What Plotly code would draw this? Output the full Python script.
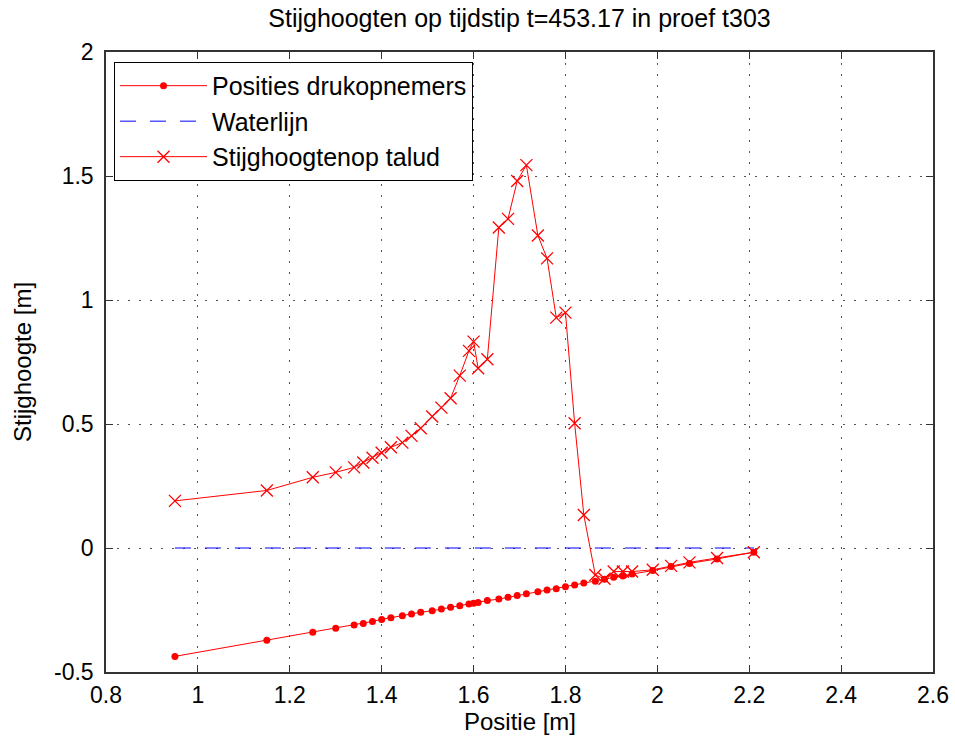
import plotly.graph_objects as go

# Sensor positions along the slope [m]
pos_x = [0.95, 1.15, 1.25, 1.30, 1.34, 1.36, 1.38, 1.40, 1.42, 1.445,
         1.465, 1.485, 1.51, 1.53, 1.55, 1.57, 1.59, 1.60, 1.61, 1.63,
         1.655, 1.675, 1.695, 1.715, 1.74, 1.76, 1.78, 1.80, 1.82, 1.84,
         1.865, 1.885, 1.905, 1.925, 1.945, 1.99, 2.03, 2.07, 2.13, 2.21]

# Elevation of pressure sensors [m]
pos_z = [-0.437, -0.372, -0.340, -0.324, -0.310, -0.304, -0.296, -0.288, -0.281, -0.273,
         -0.266, -0.259, -0.253, -0.246, -0.239, -0.233, -0.226, -0.223, -0.220, -0.212,
         -0.206, -0.199, -0.192, -0.184, -0.176, -0.169, -0.164, -0.156, -0.149, -0.141,
         -0.134, -0.126, -0.118, -0.113, -0.105, -0.091, -0.075, -0.062, -0.044, -0.017]

# Piezometric head on the slope [m]
head = [0.190, 0.232, 0.285, 0.305, 0.325, 0.345, 0.364, 0.384, 0.406, 0.425,
        0.452, 0.483, 0.530, 0.566, 0.604, 0.695, 0.795, 0.832, 0.725, 0.761,
        1.292, 1.327, 1.480, 1.544, 1.260, 1.168, 0.929, 0.949, 0.503, 0.133,
        -0.109, -0.124, -0.095, -0.095, -0.095, -0.088, -0.072, -0.058, -0.040, -0.017]

water_level = 0.0

x_ticks = [0.8, 1.0, 1.2, 1.4, 1.6, 1.8, 2.0, 2.2, 2.4, 2.6]
x_tick_text = ["0.8", "1", "1.2", "1.4", "1.6", "1.8", "2", "2.2", "2.4", "2.6"]
y_ticks = [-0.5, 0, 0.5, 1, 1.5, 2]
y_tick_text = ["-0.5", "0", "0.5", "1", "1.5", "2"]

FONT = "Liberation Sans, Arial, sans-serif"

fig = go.Figure()
fig.add_trace(go.Scatter(
    x=pos_x, y=pos_z, mode="lines+markers", name="Posities drukopnemers",
    line=dict(color="#ff0000", width=1),
    marker=dict(symbol="circle", size=7, color="#ff0000"),
))
fig.add_trace(go.Scatter(
    x=[pos_x[0], pos_x[-1]], y=[water_level, water_level], mode="lines",
    name="Waterlijn",
    line=dict(color="#0000ff", width=1, dash="16px,14px"),
))
fig.add_trace(go.Scatter(
    x=pos_x, y=head, mode="lines+markers", name="Stijghoogtenop talud",
    line=dict(color="#ff0000", width=1),
    marker=dict(symbol="x-thin", size=12, color="#ff0000",
                line=dict(color="#ff0000", width=1.3)),
))

axis_common = dict(
    showline=True, linecolor="#333333", linewidth=1.5, mirror="ticks",
    ticks="inside", ticklen=7, tickcolor="#333333",
    showgrid=True, gridcolor="#555555", gridwidth=1.2, griddash="2px,9px",
    zeroline=False, automargin=False,
    tickfont=dict(family=FONT, size=23, color="#000000"),
)

fig.update_layout(
    width=955, height=738,
    margin=dict(l=106, r=22, t=52, b=66),
    paper_bgcolor="#ffffff", plot_bgcolor="#ffffff",
    title=dict(text="Stijghoogten op tijdstip t=453.17 in proef t303",
               xref="paper", x=0.5, xanchor="center",
               yref="container", y=1 - 18 / 738, yanchor="middle",
               font=dict(family=FONT, size=25, color="#000000")),
    xaxis=dict(range=[0.8, 2.6], tickvals=x_ticks, ticktext=x_tick_text,
               ticklabelstandoff=2,
               **axis_common),
    yaxis=dict(range=[-0.5, 2], tickvals=y_ticks, ticktext=y_tick_text,
               title=dict(text="Stijghoogte [m]", standoff=16,
                          font=dict(family=FONT, size=24, color="#000000")),
               ticklabelstandoff=6,
               **axis_common),
    legend=dict(x=0.0097, y=0.984, xanchor="left", yanchor="top",
                bgcolor="#ffffff", bordercolor="#000000", borderwidth=1,
                font=dict(family=FONT, size=25, color="#000000"),
                itemwidth=87, tracegroupgap=0),
    showlegend=True,
    annotations=[dict(text="Positie [m]", xref="paper", yref="paper",
                      x=0.5, y=-(721 - 672) / 620, xanchor="center",
                      yanchor="middle", showarrow=False,
                      font=dict(family=FONT, size=24, color="#000000"))],
)

fig.write_html(
    "out.html",
    config={"displayModeBar": False},
    post_script="document.body.style.margin='0';document.body.style.padding='0';",
)
